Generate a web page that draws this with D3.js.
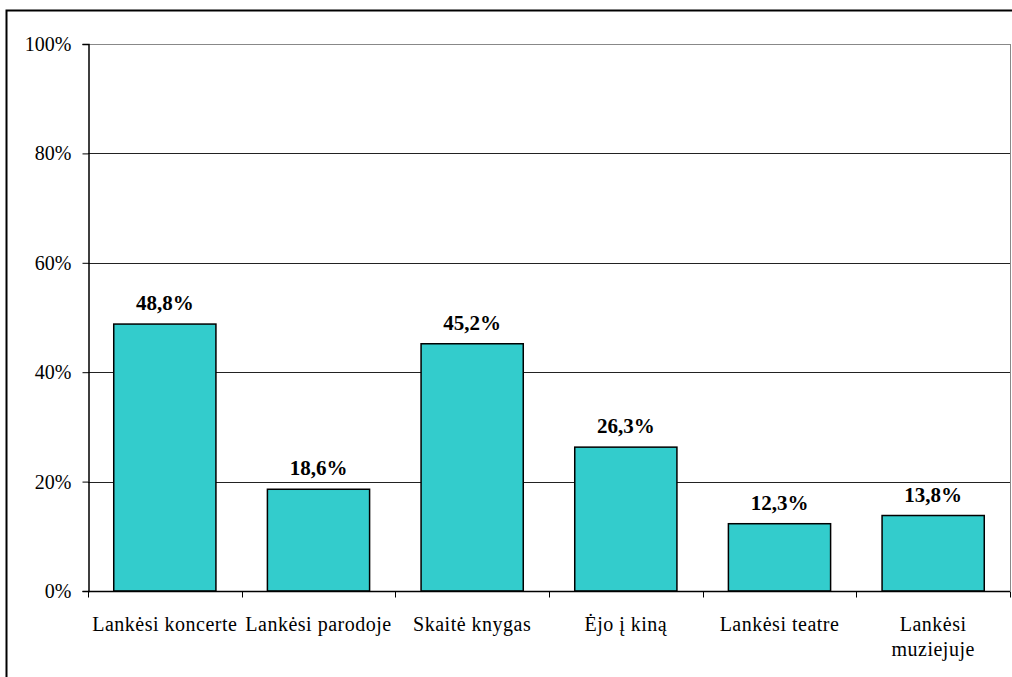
<!DOCTYPE html>
<html>
<head>
<meta charset="utf-8">
<script src="https://cdn.jsdelivr.net/npm/d3@7"></script>
<style>
  body { margin: 0; background: #fff; }
  svg { display: block; }
</style>
</head>
<body>
<svg width="1012" height="677"></svg>
<script>
const categories = ["Lankėsi koncerte", "Lankėsi parodoje", "Skaitė knygas", "Ėjo į kiną", "Lankėsi teatre", "Lankėsi muziejuje"]
const values = [48.8, 18.6, 45.2, 26.3, 12.3, 13.8]
const yTicks = [0, 20, 40, 60, 80, 100]

const FONT = "Liberation Serif"
const svg = d3.select("svg")

// outer frame (runs off the right/bottom edge)
svg.append("rect")
    .attr("x", 6.5).attr("y", 10.5)
    .attr("width", 1020).attr("height", 680)
    .attr("fill", "none")
    .attr("stroke", "#000")
    .attr("stroke-width", 2)

const plotLeft = 88, plotRight = 1010, plotTop = 44, plotBottom = 591

const x = d3.scaleBand()
  .domain(categories)
  .range([plotLeft, plotRight])
  .paddingInner(0.335)
  .paddingOuter(0.1675)

const y = d3.scaleLinear()
  .domain([0, 100])
  .range([plotBottom, plotTop])

// gridlines
svg.append("g")
  .selectAll("line")
  .data(yTicks.slice(1))
  .enter().append("line")
    .attr("x1", plotLeft).attr("x2", plotRight)
    .attr("y1", d => Math.round(y(d)) + 0.5)
    .attr("y2", d => Math.round(y(d)) + 0.5)
    .attr("stroke", d => d === 100 ? "#888" : "#222")
    .attr("stroke-width", 1)

// right border of plot area
svg.append("line")
    .attr("x1", plotRight + 0.5).attr("x2", plotRight + 0.5)
    .attr("y1", plotTop).attr("y2", plotBottom)
    .attr("stroke", "#888")

// bars
svg.append("g")
  .selectAll("rect")
  .data(values)
  .enter().append("rect")
    .attr("x", (d, i) => x(categories[i]))
    .attr("y", d => y(d))
    .attr("width", x.bandwidth())
    .attr("height", d => y(0) - y(d))
    .attr("fill", "#33cccc")
    .attr("stroke", "#000")
    .attr("stroke-width", 1.5)

// value labels
svg.append("g")
  .selectAll("text")
  .data(values)
  .enter().append("text")
    .attr("x", (d, i) => x(categories[i]) + x.bandwidth() / 2)
    .attr("y", d => y(d) - 14)
    .attr("text-anchor", "middle")
    .attr("font-family", FONT)
    .attr("font-weight", "bold")
    .attr("font-size", 21)
    .text(d => d.toFixed(1).replace(".", ",") + "%")

// y axis
const yAxis = svg.append("g")
    .attr("transform", `translate(${plotLeft + 0.5},0)`)
    .call(d3.axisLeft(y).tickValues(yTicks).tickSize(6).tickPadding(11).tickFormat(d => d + "%"))
yAxis.select(".domain").attr("stroke", "#000").attr("stroke-width", 1.5)
yAxis.selectAll("text")
    .attr("font-family", FONT)
    .attr("font-size", 20)
    .attr("fill", "#000")

// x axis with ticks between categories
const xAxis = svg.append("g")
    .attr("transform", `translate(0,${plotBottom + 0.5})`)
xAxis.append("line")
    .attr("x1", plotLeft).attr("x2", plotRight)
    .attr("stroke", "#000").attr("stroke-width", 1.5)
xAxis.selectAll("line.tick")
  .data(d3.range(categories.length + 1))
  .enter().append("line")
    .attr("class", "tick")
    .attr("x1", i => Math.round(plotLeft + i * x.step()) + 0.5)
    .attr("x2", i => Math.round(plotLeft + i * x.step()) + 0.5)
    .attr("y1", 0).attr("y2", 6)
    .attr("stroke", "#000")

// category labels, wrapped when too wide
xAxis.selectAll("text")
  .data(categories)
  .enter().append("text")
    .attr("x", d => x(d) + x.bandwidth() / 2)
    .attr("y", 39)
    .attr("text-anchor", "middle")
    .attr("font-family", FONT)
    .attr("font-size", 20)
    .attr("letter-spacing", 0.5)
    .each(function(d) {
      const lines = d === "Lankėsi muziejuje" ? ["Lankėsi", "muziejuje"] : [d]
      const t = d3.select(this)
      lines.forEach((ln, k) => {
        t.append("tspan")
          .attr("x", x(d) + x.bandwidth() / 2)
          .attr("dy", k === 0 ? 0 : 25)
          .text(ln)
      })
    })
</script>
</body>
</html>
